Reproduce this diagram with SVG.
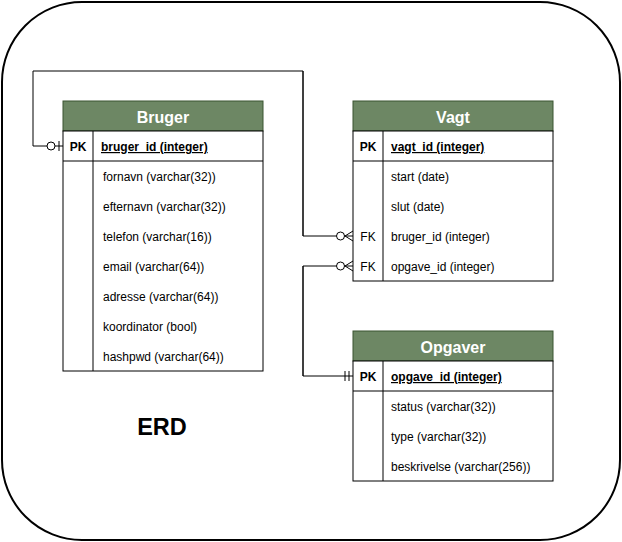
<svg xmlns="http://www.w3.org/2000/svg" width="622" height="542" viewBox="0 0 622 542">
<style>
.hdr{fill:#6d8764;stroke:#3a5431;stroke-width:1}
.box{fill:#ffffff;stroke:#000000;stroke-width:1}
.bl{fill:none;stroke:#000000;stroke-width:1}
.ht{font-family:"Liberation Sans",Arial,sans-serif;font-size:16px;font-weight:bold;fill:#ffffff;text-anchor:middle}
.t{font-family:"Liberation Sans",Arial,sans-serif;font-size:12px;fill:#000000}
.pk{font-family:"Liberation Sans",Arial,sans-serif;font-size:12px;font-weight:bold;fill:#000000;text-anchor:middle}
.fk{font-family:"Liberation Sans",Arial,sans-serif;font-size:12px;fill:#000000;text-anchor:middle}
.u{font-weight:bold;text-decoration:underline}
.conn{fill:none;stroke:#000000;stroke-width:1}
</style>
<defs>
<marker id="zeroMany" viewBox="-20 -10 22 20" refX="0" refY="0" markerWidth="22" markerHeight="20" markerUnits="userSpaceOnUse" orient="auto" overflow="visible">
<path d="M-8,0 L0,-5 M-8,0 L0,5" fill="none" stroke="#000" stroke-width="1"/>
<circle cx="-12.5" cy="0" r="4" fill="#fff" stroke="#000" stroke-width="1"/>
</marker>
<marker id="zeroOne" viewBox="-20 -10 22 20" refX="0" refY="0" markerWidth="22" markerHeight="20" markerUnits="userSpaceOnUse" orient="auto" overflow="visible">
<path d="M-4,-5 L-4,5" fill="none" stroke="#000" stroke-width="1"/>
<circle cx="-12" cy="0" r="4" fill="#fff" stroke="#000" stroke-width="1"/>
</marker>
<marker id="mandOne" viewBox="-20 -10 22 20" refX="0" refY="0" markerWidth="22" markerHeight="20" markerUnits="userSpaceOnUse" orient="auto" overflow="visible">
<path d="M-8,-5 L-8,5 M-4,-5 L-4,5" fill="none" stroke="#000" stroke-width="1"/>
</marker>
</defs>
<rect id="frame" x="2" y="2" width="618" height="538" rx="80" ry="80" fill="#ffffff" stroke="#000000" stroke-width="2"/>
<g id="connectors">
<path class="conn" d="M303,236 L303,71 L33,71 L33,146 L63,146" marker-end="url(#zeroOne)"/>
<path class="conn" d="M303,71 L303,236 L353,236" marker-end="url(#zeroMany)"/>
<path class="conn" d="M303,376 L303,266 L353,266" marker-end="url(#zeroMany)"/>
<path class="conn" d="M303,266 L303,376 L353,376" marker-end="url(#mandOne)"/>
</g>
<g id="bruger">
<rect class="hdr" x="63" y="101" width="200" height="30"/>
<text class="ht" x="163" y="123">Bruger</text>
<rect class="box" x="63" y="131" width="200" height="240"/>
<line class="bl" x1="63" y1="161" x2="263" y2="161"/>
<line class="bl" x1="93" y1="131" x2="93" y2="371"/>
<text class="pk" x="78" y="151">PK</text>
<text class="t u" x="101" y="151">bruger_id (integer)</text>
<text class="t" x="103" y="181">fornavn (varchar(32))</text>
<text class="t" x="103" y="211">efternavn (varchar(32))</text>
<text class="t" x="103" y="241">telefon (varchar(16))</text>
<text class="t" x="103" y="271">email (varchar(64))</text>
<text class="t" x="103" y="301">adresse (varchar(64))</text>
<text class="t" x="103" y="331">koordinator (bool)</text>
<text class="t" x="103" y="361">hashpwd (varchar(64))</text>
</g>
<g id="vagt">
<rect class="hdr" x="353" y="101" width="200" height="30"/>
<text class="ht" x="453" y="123">Vagt</text>
<rect class="box" x="353" y="131" width="200" height="150"/>
<line class="bl" x1="353" y1="161" x2="553" y2="161"/>
<line class="bl" x1="383" y1="131" x2="383" y2="281"/>
<text class="pk" x="368" y="151">PK</text>
<text class="t u" x="391" y="151">vagt_id (integer)</text>
<text class="t" x="391" y="181">start (date)</text>
<text class="t" x="391" y="211">slut (date)</text>
<text class="fk" x="368" y="241">FK</text>
<text class="t" x="391" y="241">bruger_id (integer)</text>
<text class="fk" x="368" y="271">FK</text>
<text class="t" x="391" y="271">opgave_id (integer)</text>
</g>
<g id="opgaver">
<rect class="hdr" x="353" y="331" width="200" height="30"/>
<text class="ht" x="453" y="353">Opgaver</text>
<rect class="box" x="353" y="361" width="200" height="120"/>
<line class="bl" x1="353" y1="391" x2="553" y2="391"/>
<line class="bl" x1="383" y1="361" x2="383" y2="481"/>
<text class="pk" x="368" y="381">PK</text>
<text class="t u" x="391" y="381">opgave_id (integer)</text>
<text class="t" x="391" y="411">status (varchar(32))</text>
<text class="t" x="391" y="441">type (varchar(32))</text>
<text class="t" x="391" y="471">beskrivelse (varchar(256))</text>
</g>
<g id="title">
<text x="162" y="435" font-family="'Liberation Sans',Arial,sans-serif" font-size="23.5" font-weight="bold" text-anchor="middle" fill="#000">ERD</text>
</g>
</svg>
